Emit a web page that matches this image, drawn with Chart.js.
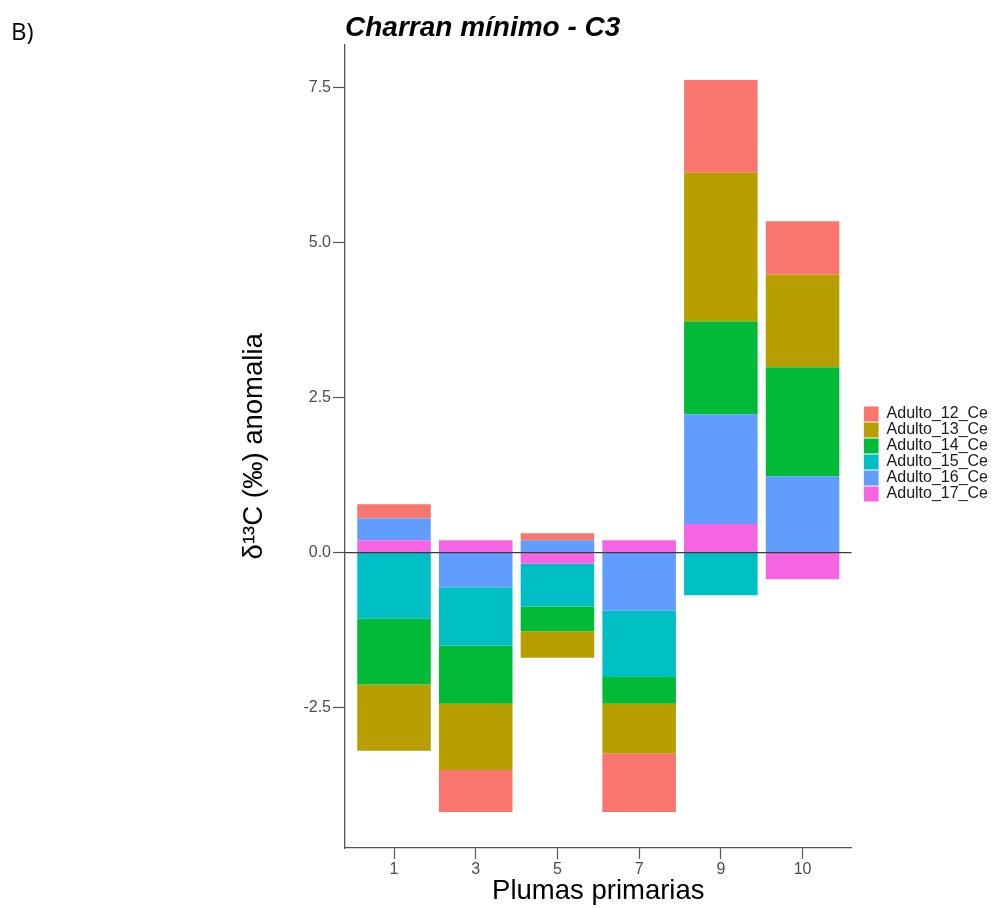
<!DOCTYPE html>
<html>
<head>
<meta charset="utf-8">
<title>Charran mínimo - C3</title>
<script src="https://cdn.jsdelivr.net/npm/chart.js@4.4.1/dist/chart.umd.min.js"></script>
<style>
  html, body { margin: 0; padding: 0; background: #fff; }
  #wrap { position: relative; width: 998px; height: 908px; }
  #chart { position: absolute; left: 0; top: 0; }
  #panel { position: absolute; left: 11px; top: 19px; font-family: 'Open Sans', sans-serif; font-size: 24px; line-height: 1; color: #000; }
</style>
</head>
<body>
<div id="wrap">
  <canvas id="chart" width="998" height="908"></canvas>
  <div id="panel">B)</div>
</div>
<script>
// primary feathers on the x axis
const plumas = ['1', '3', '5', '7', '9', '10'];
const yTicks = [-2.5, 0, 2.5, 5, 7.5];

// d13C anomaly per bird, one value per feather
const adulto12 = [0.23, -0.68, 0.11, -0.95, 1.50, 0.86];
const adulto13 = [-1.07, -1.07, -0.43, -0.80, 2.40, 1.50];
const adulto14 = [-1.06, -0.94, -0.40, -0.43, 1.50, 1.76];
const adulto15 = [-1.07, -0.94, -0.69, -1.07, -0.69, null];
const adulto16 = [0.35, -0.56, 0.20, -0.94, 1.77, 1.23];
const adulto17 = [0.20, 0.20, -0.18, 0.20, 0.46, -0.43];

const seriesNames = ['Adulto_12_Ce', 'Adulto_13_Ce', 'Adulto_14_Ce', 'Adulto_15_Ce', 'Adulto_16_Ce', 'Adulto_17_Ce'];
const seriesValues = [adulto12, adulto13, adulto14, adulto15, adulto16, adulto17];
const seriesColors = ['#F8766D', '#B79F00', '#00BA38', '#00BFC4', '#619CFF', '#F564E3'];

Chart.defaults.font.family = "'Liberation Sans', Arial, sans-serif";

// last bird stacks next to zero, so build in reverse and flip the legend back
const datasets = seriesNames.map((name, k) => ({
  label: name,
  data: seriesValues[k].map((v, i) => ({ x: i, y: v })),
  backgroundColor: seriesColors[k],
  borderWidth: 0,
  barPercentage: 0.9,
  categoryPercentage: 1
})).reverse();

// horizontal reference line at 0, drawn over the bars
const zeroLine = {
  id: 'zeroLine',
  afterDatasetsDraw(chart) {
    const { ctx, chartArea, scales } = chart;
    const y = scales.y.getPixelForValue(0);
    ctx.save();
    ctx.strokeStyle = '#3a3a3a';
    ctx.lineWidth = 1.3;
    ctx.beginPath();
    ctx.moveTo(chartArea.left, y);
    ctx.lineTo(chartArea.right, y);
    ctx.stroke();
    ctx.restore();
  }
};

const axisGrey = '#555';

new Chart(document.getElementById('chart').getContext('2d'), {
  type: 'bar',
  data: { datasets },
  plugins: [zeroLine],
  options: {
    responsive: false,
    animation: false,
    layout: { padding: { left: 0, right: 0, top: 0, bottom: 0 } },
    plugins: {
      tooltip: { enabled: false },
      title: {
        display: true,
        text: 'Charran mínimo - C3',
        align: 'start',
        fullSize: false,
        color: '#000',
        font: { size: 28, weight: 'bold', style: 'italic' },
        padding: { top: 11, bottom: 0 }
      },
      legend: {
        position: 'right',
        align: 'center',
        reverse: true,
        labels: { boxWidth: 15, boxHeight: 15, padding: 0, color: '#1a1a1a', font: { size: 16 } }
      }
    },
    scales: {
      x: {
        type: 'linear',
        min: -0.6,
        max: 5.6,
        stacked: true,
        offset: false,
        afterBuildTicks: (axis) => { axis.ticks = plumas.map((_, i) => ({ value: i })); },
        ticks: { callback: (v) => plumas[v], color: '#4d4d4d', font: { size: 16 }, padding: 1, maxRotation: 0, autoSkip: false },
        grid: { display: true, offset: false, drawOnChartArea: false, drawTicks: true, tickLength: 11, tickColor: axisGrey, tickWidth: 1.2 },
        border: { display: true, color: axisGrey, width: 1.3 },
        title: { display: true, text: 'Plumas primarias', color: '#000', font: { size: 27.5 }, padding: 0 },
        afterFit: (s) => { s.height = 60; }
      },
      y: {
        type: 'linear',
        min: -4.77,
        max: 8.2,
        stacked: true,
        afterBuildTicks: (axis) => { axis.ticks = yTicks.map(v => ({ value: v })); },
        ticks: { callback: (v) => v.toFixed(1), color: '#4d4d4d', font: { size: 16 }, padding: 2 },
        grid: { display: true, drawOnChartArea: false, drawTicks: true, tickLength: 12, tickColor: axisGrey, tickWidth: 1.2 },
        border: { display: true, color: axisGrey, width: 1.3 },
        title: { display: true, text: 'δ¹³C (‰) anomalia', color: '#000', font: { size: 27.5 }, padding: { top: 238, bottom: 0 } },
        afterFit: (s) => { s.width = 345; }
      },
      pad: {
        type: 'linear',
        position: 'right',
        display: true,
        grid: { display: false },
        border: { display: false },
        ticks: { display: false },
        afterFit: (s) => { s.width = 12; }
      }
    }
  }
});
</script>
</body>
</html>
